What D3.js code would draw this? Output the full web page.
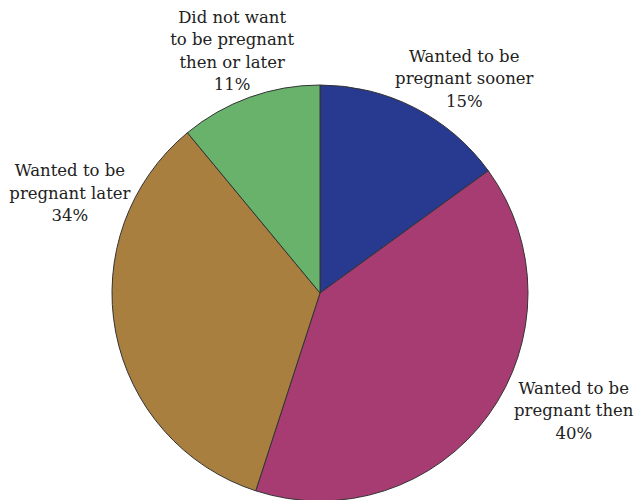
<!DOCTYPE html>
<html>
<head>
<meta charset="utf-8">
<script src="https://cdn.jsdelivr.net/npm/d3@7"></script>
<style>
  body { margin: 0; background: #fff; }
  text { font-family: "DejaVu Serif", "Liberation Serif", serif; fill: #222; }
</style>
</head>
<body>
<svg id="chart" width="634" height="500"></svg>
<script>
// pregnancy intention shares, clockwise from 12 o'clock
var categories = [
  ["Wanted to be", "pregnant sooner"],
  ["Wanted to be", "pregnant then"],
  ["Wanted to be", "pregnant later"],
  ["Did not want", "to be pregnant", "then or later"]
];
var values = [15, 40, 34, 11];
var colors = ["#283a90", "#a63c72", "#a87f3e", "#68b26b"];

var width = 634, height = 500;
var cx = 320, cy = 293, radius = 208;

// label anchor: angle in degrees (clockwise from top) and distance from centre
var labelPlace = [[34, 258], [115, 280], [291.6, 269], [340, 257]];
var lineH = 22.5;

var svg = d3.select("#chart");
var g = svg.append("g").attr("transform", "translate(" + cx + "," + cy + ")");

var pie = d3.pie().sort(null).value(function(d){ return d; });
var arc = d3.arc().innerRadius(0).outerRadius(radius);
var arcs = pie(values);

g.selectAll("path.slice")
  .data(arcs)
  .enter().append("path")
  .attr("class", "slice")
  .attr("d", arc)
  .attr("fill", function(d, i){ return colors[i]; })
  .attr("stroke", "#333")
  .attr("stroke-width", 1);

arcs.forEach(function(d, i){
  var a = labelPlace[i][0] * Math.PI / 180, r = labelPlace[i][1];
  var x = r * Math.sin(a), y = -r * Math.cos(a);
  var lines = categories[i].concat([values[i] + "%"]);
  var y0 = y - (lines.length - 1) * lineH / 2;
  var t = g.append("text")
    .attr("text-anchor", "middle")
    .attr("font-size", 16.5)
    .attr("dominant-baseline", "middle");
  lines.forEach(function(s, k){
    t.append("tspan").attr("x", x).attr("y", y0 + k * lineH).text(s);
  });
});
</script>
</body>
</html>
